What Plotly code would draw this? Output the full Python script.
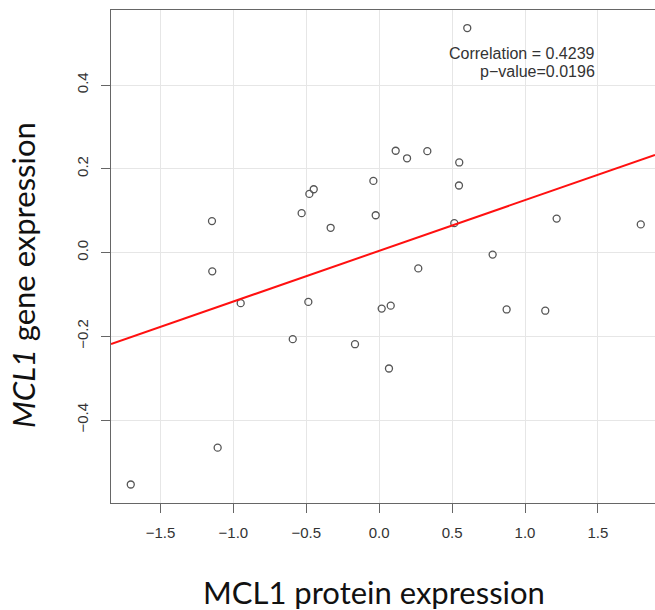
import plotly.graph_objects as go

# Data
protein = [-1.147, -0.532, -0.479, -0.449, -0.333, -0.040, -0.024,
           0.604, 0.113, 0.191, 0.330, 0.549, 0.547, 0.515, 1.217, 1.794, 0.778,
           -1.145, -0.950, -0.486, -0.593, -0.166, -1.108, -1.704,
           0.268, 0.017, 0.079, 0.067, 0.874, 1.139]
gene = [0.075, 0.094, 0.140, 0.151, 0.059, 0.171, 0.089,
        0.536, 0.243, 0.225, 0.242, 0.215, 0.160, 0.070, 0.081, 0.067, -0.005,
        -0.045, -0.121, -0.118, -0.207, -0.219, -0.466, -0.554,
        -0.038, -0.134, -0.127, -0.277, -0.136, -0.139]

fit_slope = 0.121
fit_intercept = 0.004

x_ticks = [-1.5, -1.0, -0.5, 0.0, 0.5, 1.0, 1.5]
x_tick_labels = ["\u22121.5", "\u22121.0", "\u22120.5", "0.0", "0.5", "1.0", "1.5"]
y_ticks = [-0.4, -0.2, 0.0, 0.2, 0.4]
y_tick_labels = ["\u22120.4", "\u22120.2", "0.0", "0.2", "0.4"]

corr_text = "Correlation = 0.4239"
pval_text = "p\u2212value=0.0196"

x_range = [-1.8395, 1.8916]
y_range = [-0.5982, 0.5791]

fig = go.Figure()
fig.add_trace(go.Scatter(
    x=protein, y=gene, mode="markers",
    marker=dict(symbol="circle-open", size=7, color="#555555", line=dict(width=1.3, color="#555555")),
    showlegend=False, hoverinfo="skip"))

fig.add_trace(go.Scatter(
    x=x_range, y=[fit_intercept + fit_slope * v for v in x_range], mode="lines",
    line=dict(color="#ff1010", width=2), showlegend=False, hoverinfo="skip"))

tickfont = dict(family="Liberation Sans, Arial", size=15, color="#333333")

fig.update_layout(
    width=655, height=610,
    margin=dict(l=111, r=0, t=10, b=107),
    paper_bgcolor="white", plot_bgcolor="white",
    xaxis=dict(range=x_range, tickvals=x_ticks, ticktext=x_tick_labels,
               showgrid=True, gridcolor="#e6e6e6", gridwidth=1, zeroline=False,
               showline=True, linecolor="#666666", linewidth=1, mirror=True,
               ticks="outside", ticklen=9, tickcolor="#666666", tickwidth=1,
               tickfont=tickfont, ticklabelstandoff=7),
    yaxis=dict(range=y_range, tickvals=y_ticks, ticktext=y_tick_labels,
               showgrid=True, gridcolor="#e6e6e6", gridwidth=1, zeroline=False,
               showline=True, linecolor="#666666", linewidth=1,
               ticks="outside", ticklen=9, tickcolor="#666666", tickwidth=1,
               tickfont=tickfont, tickangle=-90, ticklabelstandoff=7),
)

fig.add_annotation(text=corr_text, xref="x", yref="y", x=1.497, y=0.4764,
                   xanchor="right", yanchor="middle", showarrow=False,
                   font=dict(family="Liberation Sans, Arial", size=16, color="#333333"))
fig.add_annotation(text=pval_text, xref="x", yref="y", x=1.497, y=0.432,
                   xanchor="right", yanchor="middle", showarrow=False,
                   font=dict(family="Liberation Sans, Arial", size=16, color="#333333"))

fig.add_annotation(text="MCL1 protein expression", xref="paper", yref="paper",
                   x=0.4835, y=-0.1805, xanchor="center", yanchor="middle", showarrow=False,
                   font=dict(family="Lato", size=31, color="#111111"))
fig.add_annotation(text="<i>MCL1</i> gene expression", xref="paper", yref="paper",
                   x=-0.1618, y=0.4625, xanchor="center", yanchor="middle", showarrow=False,
                   textangle=-90,
                   font=dict(family="Lato", size=31, color="#111111"))

fig.write_html("out.html")
